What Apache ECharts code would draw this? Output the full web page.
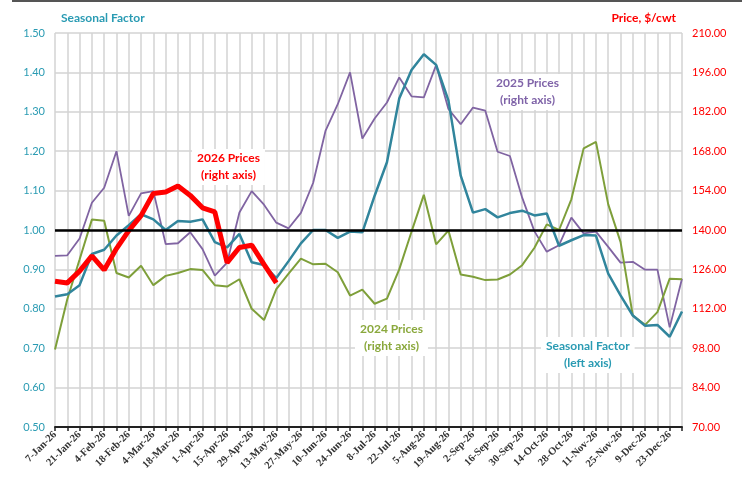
<!DOCTYPE html>
<html>
<head>
<meta charset="utf-8">
<script src="https://cdn.jsdelivr.net/npm/echarts@6/dist/echarts.min.js"></script>
<style>
  html, body { margin: 0; padding: 0; background: #fff; }
  #chart-container { width: 742px; height: 487px; }
</style>
</head>
<body>
<div id="chart-container"></div>
<script>
// weekly dates, label on every other week
var weeks = [
  '7-Jan-26', '14-Jan-26', '21-Jan-26', '28-Jan-26',
  '4-Feb-26', '11-Feb-26', '18-Feb-26', '25-Feb-26',
  '4-Mar-26', '11-Mar-26', '18-Mar-26', '25-Mar-26',
  '1-Apr-26', '8-Apr-26', '15-Apr-26', '22-Apr-26', '29-Apr-26',
  '6-May-26', '13-May-26', '20-May-26', '27-May-26',
  '3-Jun-26', '10-Jun-26', '17-Jun-26', '24-Jun-26',
  '1-Jul-26', '8-Jul-26', '15-Jul-26', '22-Jul-26', '29-Jul-26',
  '5-Aug-26', '12-Aug-26', '19-Aug-26', '26-Aug-26',
  '2-Sep-26', '9-Sep-26', '16-Sep-26', '23-Sep-26', '30-Sep-26',
  '7-Oct-26', '14-Oct-26', '21-Oct-26', '28-Oct-26',
  '4-Nov-26', '11-Nov-26', '18-Nov-26', '25-Nov-26',
  '2-Dec-26', '9-Dec-26', '16-Dec-26', '23-Dec-26', '30-Dec-26'
];

// left axis
var seasonalFactor = [
  0.831, 0.837, 0.860, 0.939, 0.950, 0.986, 1.012, 1.040, 1.027, 1.000,
  1.023, 1.021, 1.027, 0.969, 0.956, 0.990, 0.918, 0.911, 0.878, 0.921,
  0.966, 1.000, 1.000, 0.980, 0.996, 0.994, 1.087, 1.172, 1.334, 1.406,
  1.446, 1.419, 1.329, 1.138, 1.044, 1.053, 1.032, 1.043, 1.049, 1.037,
  1.042, 0.960, 0.974, 0.987, 0.986, 0.889, 0.834, 0.783, 0.757, 0.759,
  0.729, 0.793
];

// right axis, $/cwt
var prices2025 = [
  130.8, 131.0, 137.0, 149.7, 155.0, 168.0, 145.0, 153.0, 153.8, 135.0,
  135.3, 139.2, 133.2, 123.8, 128.4, 146.2, 153.8, 149.0, 142.6, 140.6,
  146.1, 156.8, 175.2, 184.7, 196.0, 172.5, 179.6, 185.3, 194.2, 187.5,
  187.1, 198.6, 183.0, 177.6, 183.5, 182.4, 167.8, 166.3, 151.5, 139.5,
  132.3, 134.6, 144.4, 138.8, 139.4, 134.0, 128.4, 128.7, 125.9, 125.9,
  105.4, 122.7
];

var prices2024 = [
  97.5, 115.4, 129.5, 143.7, 143.3, 124.7, 123.1, 127.3, 120.4, 123.7,
  124.7, 126.1, 125.8, 120.4, 119.9, 122.5, 112.0, 108.0, 119.0, 124.5,
  129.8, 127.8, 128.0, 125.0, 116.7, 118.8, 113.8, 115.6, 126.0, 139.4,
  152.5, 134.9, 139.8, 124.2, 123.4, 122.2, 122.4, 124.2, 127.5, 133.7,
  142.0, 140.0, 150.9, 169.0, 171.3, 149.1, 135.8, 109.6, 106.3, 110.8,
  122.7, 122.5
];

var prices2026 = [
  121.8, 121.2, 125.4, 130.8, 125.8, 133.4, 139.8, 145.1, 153.0, 153.5,
  155.6, 152.3, 147.9, 146.4, 128.4, 133.8, 134.6, 127.8, 121.2
];

var tealColor = '#31859C';
var purpleColor = '#8064A2';
var greenColor = '#7E9F3A';
var redColor = '#FF0000';
var labelFont = 'Lato, "Open Sans", sans-serif';

var chart = echarts.init(document.getElementById('chart-container'), null, { renderer: 'canvas' });

function noteText(x, y, text, color) {
  return {
    type: 'text',
    left: x, top: y,
    z: 100,
    style: {
      text: text,
      fill: color,
      font: 'bold 12px ' + labelFont,
      textAlign: 'center',
      lineHeight: 17,
      backgroundColor: '#fff',
      padding: [1, 5]
    }
  };
}

var option = {
  backgroundColor: '#fff',
  animation: false,
  grid: { left: 55, right: 60, top: 33, bottom: 60 },
  xAxis: {
    type: 'category',
    data: weeks,
    boundaryGap: false,
    axisLine: { lineStyle: { color: '#222', width: 2 } },
    axisTick: { interval: 0, length: 4, lineStyle: { color: '#222', width: 1.5 } },
    axisLabel: {
      interval: 1,
      rotate: 45,
      color: '#333',
      fontFamily: '"Liberation Serif", serif',
      fontWeight: 'bold',
      fontSize: 10.5,
      margin: 6
    },
    splitLine: { show: true, interval: 0, lineStyle: { color: '#d3d3d3', width: 1.5 } }
  },
  yAxis: [
    {
      type: 'value',
      min: 0.5, max: 1.5, interval: 0.1,
      axisLine: { show: false },
      axisTick: { show: false },
      axisLabel: {
        color: '#2A9BB3', fontFamily: labelFont, fontSize: 11, margin: 10,
        formatter: function (v) { return v.toFixed(2); }
      },
      splitLine: { lineStyle: { color: '#d3d3d3', width: 1.5 } }
    },
    {
      type: 'value',
      min: 70, max: 210, interval: 14,
      axisLine: { show: false },
      axisTick: { show: false },
      axisLabel: {
        color: redColor, fontFamily: labelFont, fontSize: 11, margin: 10,
        formatter: function (v) { return v.toFixed(2); }
      },
      splitLine: { show: false }
    }
  ],
  series: [
    {
      name: '2025 Prices',
      type: 'line',
      yAxisIndex: 1,
      data: prices2025,
      symbol: 'none',
      lineStyle: { color: purpleColor, width: 1.8 },
      z: 2
    },
    {
      name: '2024 Prices',
      type: 'line',
      yAxisIndex: 1,
      data: prices2024,
      symbol: 'none',
      lineStyle: { color: greenColor, width: 2 },
      z: 2
    },
    {
      name: 'Seasonal Factor',
      type: 'line',
      yAxisIndex: 0,
      data: seasonalFactor,
      symbol: 'none',
      lineStyle: { color: tealColor, width: 2.5 },
      z: 3,
      markLine: {
        silent: true,
        symbol: 'none',
        label: { show: false },
        lineStyle: { color: '#000', width: 2.5, type: 'solid' },
        data: [{ yAxis: 1 }]
      }
    },
    {
      name: '2026 Prices',
      type: 'line',
      yAxisIndex: 1,
      data: prices2026,
      symbol: 'none',
      lineStyle: { color: redColor, width: 5 },
      z: 4
    }
  ],
  graphic: [
    // frame line along the top
    { type: 'rect', left: 12, top: 0, shape: { width: 730, height: 2 }, style: { fill: '#555' } },
    { type: 'text', left: 61, top: 12, style: { text: 'Seasonal Factor', fill: '#2A9BB3', font: 'bold 12px ' + labelFont } },
    { type: 'text', right: 66, top: 12, style: { text: 'Price, $/cwt', fill: redColor, font: 'bold 12px ' + labelFont } },
    noteText(192, 149, '2026 Prices\n(right axis)', redColor),
    noteText(491, 74, '2025 Prices\n(right axis)', '#7F63A8'),
    noteText(355, 320, '2024 Prices\n(right axis)', '#8AA83C'),
    noteText(541, 337, 'Seasonal Factor\n(left axis)', '#2A9BB3')
  ]
};

chart.setOption(option);
</script>
</body>
</html>
